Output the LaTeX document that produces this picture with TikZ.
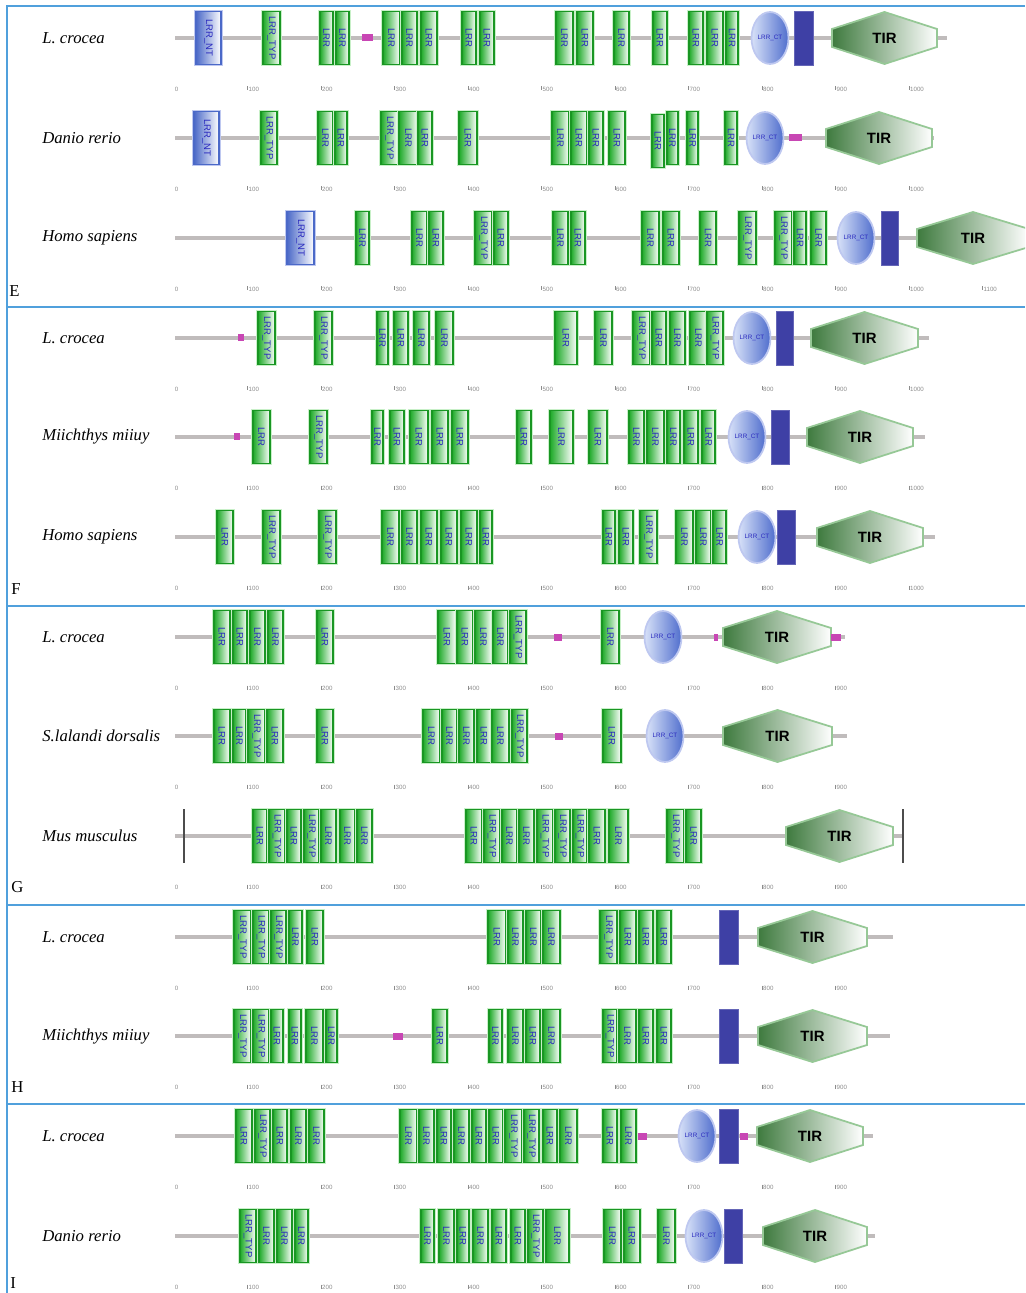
\documentclass[tikz,border=0pt]{standalone}
\usepackage{fontspec}
\setmainfont{Liberation Serif}
\newfontfamily\domfont{Liberation Sans}
\usetikzlibrary{calc}

\definecolor{panelblue}{RGB}{80,160,220}
\definecolor{bonegray}{RGB}{192,188,188}
\definecolor{lrrgreen}{RGB}{30,170,40}
\definecolor{lrrdark}{RGB}{25,150,35}
\definecolor{lrrpale}{RGB}{200,240,200}
\definecolor{txtblue}{RGB}{40,40,190}
\definecolor{ntblue}{RGB}{75,105,200}
\definecolor{ntpale}{RGB}{190,200,240}
\definecolor{ctblue}{RGB}{80,110,205}
\definecolor{ctlight}{RGB}{215,225,248}
\definecolor{tmblue}{RGB}{62,64,165}
\definecolor{tirdark}{RGB}{62,122,62}
\definecolor{tirline}{RGB}{150,200,150}
\definecolor{pinkdom}{RGB}{200,70,180}
\definecolor{tickgray}{RGB}{140,140,140}

\tikzset{
  bone/.style={draw=bonegray, line width=2.2pt},
  lrrbox/.style={draw=lrrdark, line width=0.6pt, left color=lrrgreen, right color=white,
    preaction={draw=lrrpale, line width=2pt}},
  ntbox/.style={draw=ntblue, line width=0.6pt, left color=ntblue, right color=white,
    preaction={draw=ntpale, line width=2pt}},
  lrrtext/.style={rotate=-90, inner sep=0pt, text=txtblue, font=\domfont\fontsize{5.4}{6}\selectfont},
  ctell/.style={draw=ntpale, line width=1pt, left color=ctlight, right color=ctblue},
  cttext/.style={inner sep=0pt, text=txtblue, font=\domfont\fontsize{3.6}{4}\selectfont},
  tmbox/.style={fill=tmblue, draw=tmblue!80},
  tirhex/.style={draw=tirline, line width=1pt, left color=tirdark, right color=white},
  tirtext/.style={inner sep=0pt, font=\domfont\bfseries\fontsize{8.5}{10}\selectfont},
  pinkbox/.style={fill=pinkdom},
  species/.style={anchor=west, inner sep=0pt, font=\itshape\fontsize{9.5}{11}\selectfont},
  panel/.style={anchor=west, inner sep=0pt, font=\fontsize{9.5}{11}\selectfont},
  tick/.style={anchor=west, inner sep=0.3pt, text=tickgray, font=\domfont\fontsize{3.5}{4}\selectfont},
  tickmark/.style={draw=tickgray, line width=0.2pt},
  endbar/.style={draw=black!70, line width=0.6pt},
  panelline/.style={draw=panelblue, line width=1.2pt}
}

% y, right end of the line, last tick
\newcommand{\backbone}[3]{
  \draw[bone] (175,#1) -- (#2,#1);
  \node[tick] (t0-#1) at (174,#1+51) {0};
  \foreach \k in {1,...,#3} {
    \draw[tickmark] ({174+73.5*\k},#1+48.5) -- ++(0,4);
    \node[tick] (t\k-#1) at ({174.3+73.5*\k},#1+51) {\k00};
  }
}
% y, list of left/right/kind (L = LRR, T = LRR_TYP)
\newcommand{\lrrs}[2]{
  \foreach \l/\r/\t in {#2} {
    \draw[lrrbox] (\l,#1-26.5) rectangle (\r,#1+26.5);
    \node[lrrtext] (lrr-#1-\l) at ({(\l+\r)/2},#1) {\if\t T{LRR\_TYP}\else{LRR}\fi};
  }
}
\newcommand{\ntseg}[3]{
  \draw[ntbox] (#2,#1-26.5) rectangle (#3,#1+26.5);
  \node[lrrtext] (nt-#1) at ({(#2+#3)/2},#1) {LRR\_NT};
}
\newcommand{\ctseg}[2]{
  \draw[ctell] (#2,#1) ellipse [x radius=0.37cm, y radius=0.52cm];
  \node[cttext] (ct-#1) at (#2,#1) {LRR\_CT};
}
\newcommand{\tmseg}[3]{\draw[tmbox] (#2,#1-27) rectangle (#3,#1+27);}
\newcommand{\pinkseg}[3]{\fill[pinkbox] (#2,#1-3.5) rectangle (#3,#1+3.5);}
\newcommand{\tirseg}[3]{
  \draw[tirhex] (#2,#1-9) -- ({(#2+#3)/2},#1-26) -- (#3,#1-9) -- (#3,#1+9)
    -- ({(#2+#3)/2},#1+26) -- (#2,#1+9) -- cycle;
  \node[tirtext] (tir-#1) at ({(#2+#3)/2},#1) {TIR};
}

\begin{document}
\begin{tikzpicture}[x=0.02cm, y=-0.02cm]
\useasboundingbox (0,0) rectangle (1025,1293);
\clip (0,0) rectangle (1025,1293);

% frame
\draw[panelline] (7,1293) -- (7,6) -- (1025,6);
\foreach \s in {307,606,905,1104} {\draw[panelline] (7,\s) -- (1025,\s);}
\node[panel] (pe) at (9,291) {E};
\node[panel] (pf) at (11,589) {F};
\node[panel] (pg) at (11,887) {G};
\node[panel] (ph) at (11,1087) {H};
\node[panel] (pi) at (10,1283) {I};

% E
\node[species] (sp-e1) at (42,38) {L. crocea};
\backbone{38}{947}{10}
\ntseg{38}{196}{221}
\lrrs{38}{263/280/T, 320/333/L, 336/349/L, 383/400/L, 402/417/L, 421/437/L, 462/476/L, 480/494/L, 556/573/L, 577/593/L, 614/629/L, 653/667/L, 689/703/L, 707/723/L, 726/738/L}
\pinkseg{38}{362}{373}
\ctseg{38}{770}
\tmseg{38}{794}{813}
\tirseg{38}{832}{937}

\node[species] (sp-e2) at (42,138) {Danio rerio};
\backbone{138}{934}{10}
\ntseg{138}{194}{219}
\lrrs{138}{261/277/T, 318/333/L, 335/347/L, 381/398/T, 399/418/L, 418/432/L, 459/477/L, 552/569/L, 571/587/L, 589/603/L, 609/625/L, 667/678/L, 687/698/L, 725/737/L}
\lrrs{141}{652/664/L}
\ctseg{138}{765}
\pinkseg{138}{789}{802}
\tirseg{138}{826}{932}

\node[species] (sp-e3) at (42,238) {Homo sapiens};
\backbone{238}{1025}{11}
\ntseg{238}{287}{314}
\lrrs{238}{356/369/L, 412/427/L, 429/443/L, 475/492/T, 494/508/L, 553/568/L, 571/585/L, 642/659/L, 663/679/L, 700/716/L, 739/756/T, 775/792/T, 794/806/L, 811/826/L}
\ctseg{238}{856}
\tmseg{238}{881}{898}
\tirseg{238}{917}{1029}

% F
\node[species] (sp-f1) at (42,338) {L. crocea};
\backbone{338}{929}{10}
\pinkseg{338}{238}{244}
\lrrs{338}{258/275/T, 315/332/T, 377/388/L, 394/408/L, 414/429/L, 436/453/L, 555/577/L, 595/612/L, 633/650/T, 652/666/L, 670/685/L, 690/707/L, 707/723/T}
\ctseg{338}{752}
\tmseg{338}{776}{793}
\tirseg{338}{811}{918}

\node[species] (sp-f2) at (42,437) {Miichthys miiuy};
\backbone{437}{925}{10}
\pinkseg{437}{234}{240}
\lrrs{437}{253/270/L, 310/327/T, 372/383/L, 390/404/L, 410/428/L, 432/448/L, 452/468/L, 517/531/L, 550/573/L, 589/607/L, 629/644/L, 647/664/L, 667/680/L, 684/698/L, 702/715/L}
\ctseg{437}{747}
\tmseg{437}{771}{789}
\tirseg{437}{807}{913}

\node[species] (sp-f3) at (42,537) {Homo sapiens};
\backbone{537}{935}{10}
\lrrs{537}{217/233/L, 263/280/T, 319/336/T, 382/399/L, 402/417/L, 421/437/L, 441/457/L, 461/477/L, 480/492/L, 603/615/L, 619/633/L, 640/657/T, 676/693/L, 696/711/L, 713/726/L}
\ctseg{537}{757}
\tmseg{537}{777}{795}
\tirseg{537}{817}{923}

% G
\node[species] (sp-g1) at (42,637) {L. crocea};
\backbone{637}{845}{9}
\lrrs{637}{214/230/L, 233/247/L, 250/265/L, 268/283/L, 317/333/L, 438/456/L, 457/473/L, 475/492/L, 493/508/L, 510/526/T, 602/619/L}
\pinkseg{637}{554}{562}
\pinkseg{637}{714}{718}
\ctseg{637}{663}
\tirseg{637}{723}{831}
\pinkseg{637}{831}{841}

\node[species] (sp-g2) at (42,736) {S.lalandi dorsalis};
\backbone{736}{847}{9}
\lrrs{736}{214/230/L, 233/246/L, 248/265/T, 267/283/L, 317/333/L, 423/440/L, 442/457/L, 459/474/L, 477/491/L, 492/509/L, 512/527/T, 603/621/L}
\pinkseg{736}{555}{563}
\ctseg{736}{665}
\tirseg{736}{723}{832}

\node[species] (sp-g3) at (42,836) {Mus musculus};
\backbone{836}{903}{9}
\draw[endbar] (184,809) -- (184,863);
\draw[endbar] (903,809) -- (903,863);
\lrrs{836}{253/267/L, 269/285/T, 287/301/L, 304/319/T, 321/336/L, 340/355/L, 357/372/L, 466/482/L, 484/500/T, 502/517/L, 519/534/L, 537/553/T, 555/570/T, 573/587/T, 589/605/L, 609/628/L, 667/684/T, 686/701/L}
\tirseg{836}{786}{893}

% H
\node[species] (sp-h1) at (42,937) {L. crocea};
\backbone{937}{893}{9}
\lrrs{937}{234/251/T, 253/269/T, 271/286/T, 289/302/L, 307/323/L, 488/506/L, 508/523/L, 526/541/L, 543/560/L, 600/617/T, 620/636/L, 639/653/L, 657/671/L}
\tmseg{937}{719}{738}
\tirseg{937}{758}{867}

\node[species] (sp-h2) at (42,1036) {Miichthys miiuy};
\backbone{1036}{890}{9}
\lrrs{1036}{234/251/T, 253/269/T, 271/283/L, 289/301/L, 306/323/L, 326/337/L, 433/447/L, 489/502/L, 508/523/L, 526/540/L, 543/560/L, 603/617/T, 619/636/L, 639/653/L, 657/671/L}
\pinkseg{1036}{393}{403}
\tmseg{1036}{719}{738}
\tirseg{1036}{758}{867}

% I
\node[species] (sp-i1) at (42,1136) {L. crocea};
\backbone{1136}{873}{9}
\lrrs{1136}{236/252/L, 255/270/T, 273/287/L, 291/306/L, 309/324/L, 400/417/L, 419/434/L, 437/451/L, 454/469/L, 472/486/L, 489/503/L, 505/522/T, 524/539/T, 543/557/L, 560/577/L, 603/617/L, 621/636/L}
\pinkseg{1136}{638}{647}
\ctseg{1136}{697}
\tmseg{1136}{719}{738}
\pinkseg{1136}{740}{748}
\tirseg{1136}{757}{863}

\node[species] (sp-i2) at (42,1236) {Danio rerio};
\backbone{1236}{875}{9}
\lrrs{1236}{240/256/T, 259/274/L, 277/292/L, 295/308/L, 421/434/L, 439/454/L, 457/469/L, 473/488/L, 492/506/L, 511/525/L, 528/543/T, 546/569/L, 604/621/L, 624/640/L, 658/675/L}
\ctseg{1236}{704}
\tmseg{1236}{724}{742}
\tirseg{1236}{763}{867}
\end{tikzpicture}
\end{document}
